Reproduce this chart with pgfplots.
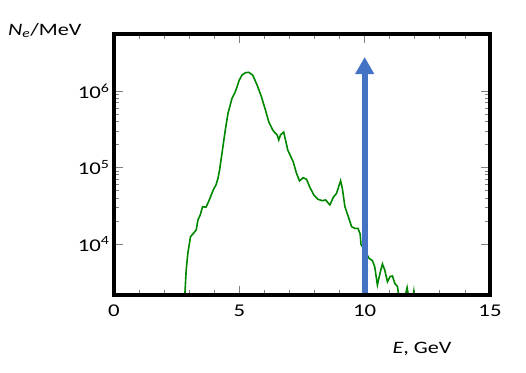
\documentclass[border=0pt]{standalone}
\usepackage{pgfplots}
\pgfplotsset{compat=1.18}
\usepackage{fontspec}
\setmainfont{Carlito}[FakeStretch=1.27]
\usetikzlibrary{arrows.meta}
\definecolor{curvegreen}{RGB}{0,135,0}
\definecolor{arrowblue}{RGB}{68,114,196}
\begin{document}
\begin{tikzpicture}[x=1bp,y=1bp]
\path[use as bounding box] (0,0) rectangle (526,-372);
\begin{axis}[
  at={(114bp,-295bp)}, anchor=south west,
  scale only axis, width=376bp, height=261bp,
  xmin=0, xmax=15,
  ymode=log, ymin=2150, ymax=5.56e6,
  axis line style={draw=none},
  xtick={0,5,10,15}, xticklabels={0,5,10,15},
  minor x tick num=4,
  ytick={1e4,1e5,1e6},
  yticklabels={10\textsuperscript{4},10\textsuperscript{5},10\textsuperscript{6}},
  tick style={gray, line width=0.8bp},
  major tick length=9bp, minor tick length=5bp,
  tick label style={font=\fontsize{18}{21}\selectfont},
  xticklabel style={yshift=-6bp},
  yticklabel style={xshift=-1bp},
  clip=true,
]
\addplot[curvegreen, line width=1.6bp] coordinates {
(2.80,1500) (2.88,4570) (2.948,7630) (3.052,12450) (3.172,13800) (3.28,15240)
(3.348,20600) (3.44,23900) (3.532,30700) (3.668,30200) (3.772,35700) (3.88,43700)
(3.972,51900) (4.068,59000) (4.148,72200) (4.212,92700) (4.308,153500) (4.44,309000)
(4.548,511000) (4.708,803000) (4.84,979000) (5.0,1.393e6) (5.108,1.618e6) (5.24,1.734e6)
(5.372,1.755e6) (5.532,1.618e6) (5.708,1.198e6) (5.88,842000) (6.04,565000) (6.172,397000)
(6.332,309000) (6.44,280000) (6.508,266000) (6.572,229000) (6.64,266000) (6.77,290000)
(6.932,169000) (7.148,119000) (7.28,84000) (7.4,66700) (7.548,73600) (7.68,70100)
(7.812,55100) (7.972,43700) (8.132,38400) (8.308,36800) (8.44,37600) (8.612,32400)
(8.748,40700) (8.88,46000) (8.972,57300) (9.04,67100) (9.108,53400) (9.212,30700)
(9.348,22700) (9.48,16800) (9.6,16000) (9.732,16000) (9.82,13500) (9.852,9900)
(10.092,7330) (10.172,6500) (10.308,6050) (10.4,5050) (10.508,2910) (10.612,4140)
(10.708,5480) (10.8,4570) (10.908,3210) (11.012,3740) (11.108,3820) (11.2,3060)
(11.308,2770) (11.372,2000) (11.52,1500) (11.692,2690) (11.78,1800) (11.88,1500)
(11.96,2360) (12.02,1500)
};
\addplot[arrowblue, line width=6bp, -{Triangle[width=18bp,length=17bp]}] coordinates {(10,1500) (10,2.78e6)};
\end{axis}
\draw[black, line width=3.2bp] (114,-295) rectangle (490,-34);
\node[anchor=base west, inner sep=0pt, font=\fontsize{17.5}{21}\selectfont] at (8,-35) {\textit{N\textsubscript{e}}/MeV};
\node[anchor=base, inner sep=0pt, font=\fontsize{17.5}{21}\selectfont] at (422,-353) {\textit{E}, GeV};
\end{tikzpicture}
\end{document}
